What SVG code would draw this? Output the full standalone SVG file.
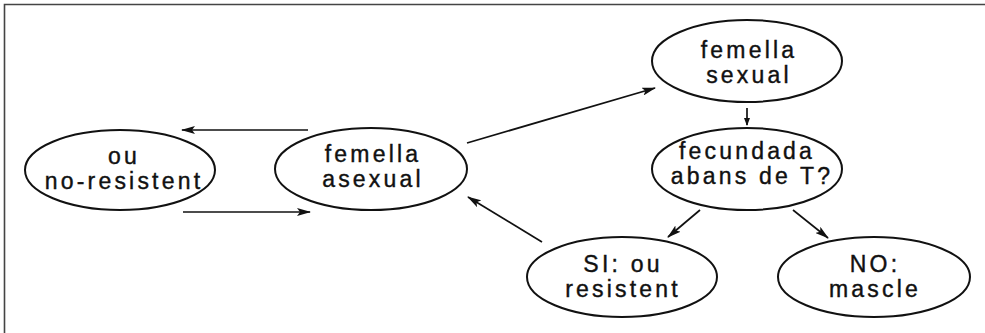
<svg xmlns="http://www.w3.org/2000/svg" width="985" height="333" viewBox="0 0 985 333">
<style>
.node ellipse{fill:#fff;stroke:#111;stroke-width:2}
.node text{font-family:"Liberation Sans",Arial,sans-serif;font-size:23px;letter-spacing:3.2px;fill:#111;text-anchor:middle;stroke:#111;stroke-width:0.4}
#connectors line{stroke:#111;stroke-width:1.7;fill:none}
.frame{stroke:#444;stroke-width:1.6;fill:none}
</style>
<defs>
<marker id="ah" viewBox="0 0 14 8" refX="13" refY="4" markerWidth="14" markerHeight="8" markerUnits="userSpaceOnUse" orient="auto">
<path d="M0,0 L14,4 L0,8 L3,4 Z" fill="#111"/>
</marker>
<marker id="ahs" viewBox="0 0 8 6" refX="7" refY="3" markerWidth="8" markerHeight="6" markerUnits="userSpaceOnUse" orient="auto">
<path d="M0,0 L8,3 L0,6 Z" fill="#111"/>
</marker>
</defs>
<rect width="985" height="333" fill="#fff"/>
<path class="frame" d="M4.5,333 L4.5,4.5 L985,4.5"/>
<g id="connectors">
<line x1="308" y1="130" x2="182" y2="130" marker-end="url(#ah)"/>
<line x1="183" y1="212" x2="310" y2="212" marker-end="url(#ah)"/>
<line x1="467" y1="143" x2="655" y2="88" marker-end="url(#ah)"/>
<line x1="542" y1="242" x2="468" y2="197" marker-end="url(#ah)"/>
<line x1="747" y1="108" x2="747" y2="125" marker-end="url(#ahs)"/>
<line x1="700" y1="210" x2="668" y2="237" marker-end="url(#ah)"/>
<line x1="793" y1="210" x2="828" y2="238" marker-end="url(#ah)"/>
</g>
<g id="node-ou-no-resistent" class="node">
<ellipse cx="120" cy="170" rx="95" ry="40"/>
<text x="124" y="164">ou</text>
<text x="124" y="189">no-resistent</text>
</g>
<g id="node-femella-asexual" class="node">
<ellipse cx="371" cy="169" rx="96" ry="41"/>
<text x="373" y="162">femella</text>
<text x="373" y="187">asexual</text>
</g>
<g id="node-femella-sexual" class="node">
<ellipse cx="747" cy="61" rx="95" ry="41"/>
<text x="749" y="58">femella</text>
<text x="749" y="83">sexual</text>
</g>
<g id="node-fecundada" class="node">
<ellipse cx="747" cy="169" rx="95" ry="41"/>
<text x="747" y="159">fecundada</text>
<text x="752" y="184">abans de T?</text>
</g>
<g id="node-si" class="node">
<ellipse cx="622" cy="277" rx="95" ry="40"/>
<text x="623" y="272">SI: ou</text>
<text x="623" y="297">resistent</text>
</g>
<g id="node-no" class="node">
<ellipse cx="874" cy="277" rx="96" ry="40"/>
<text x="875" y="272">NO:</text>
<text x="875" y="297">mascle</text>
</g>
</svg>
